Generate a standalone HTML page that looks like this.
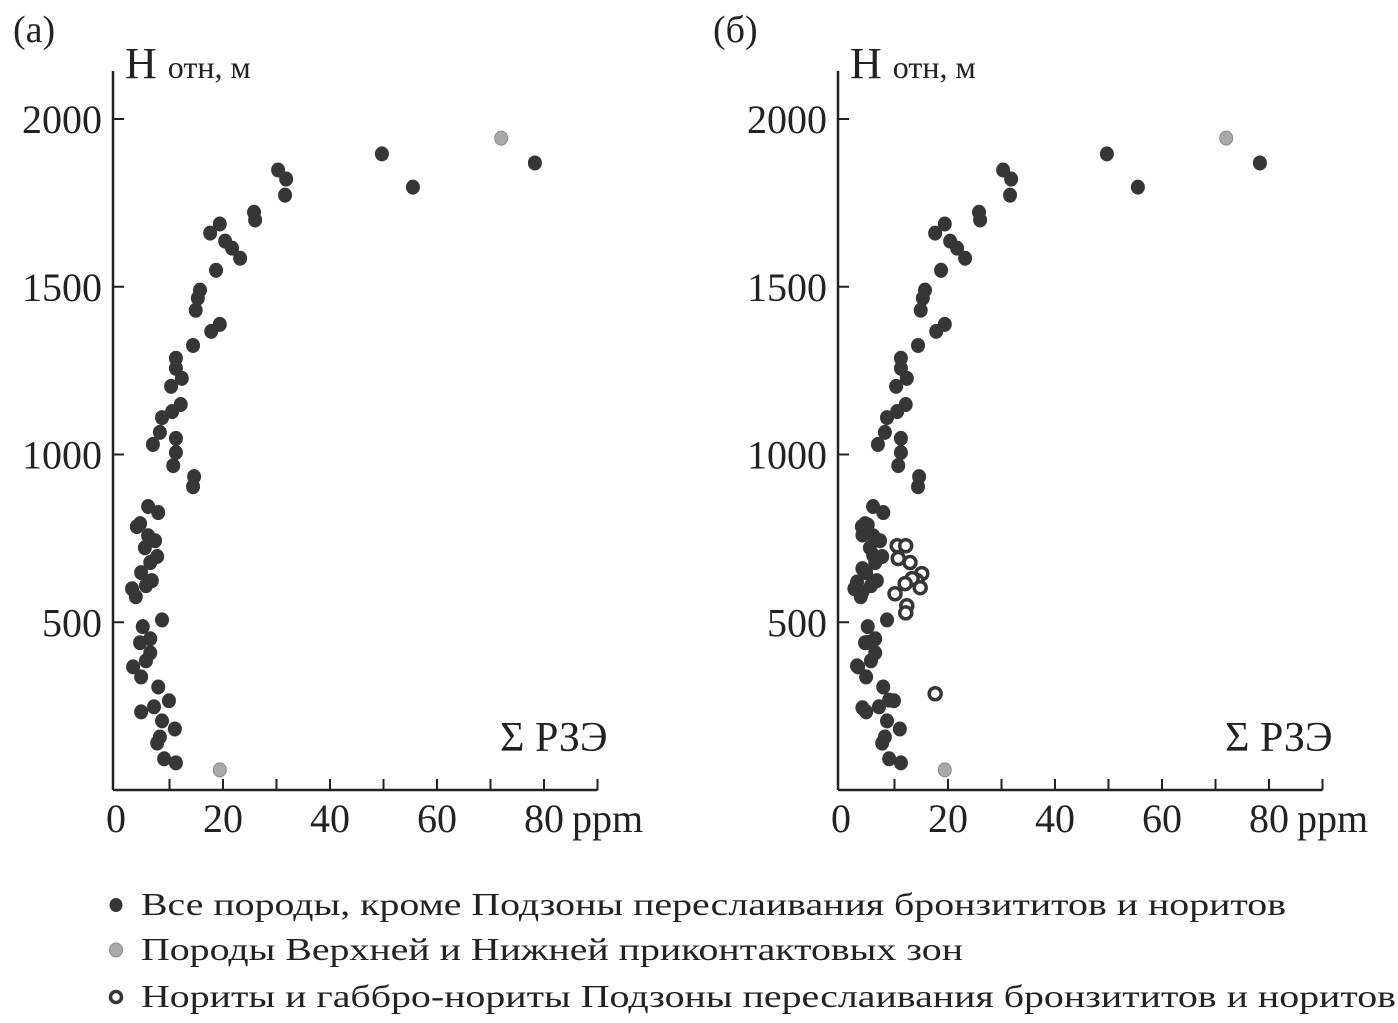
<!DOCTYPE html>
<html><head><meta charset="utf-8"><style>
html,body{margin:0;padding:0;background:#fff;}
svg{display:block;font-family:"Liberation Serif",serif;}
</style></head><body>
<svg id="chart" width="1398" height="1023" viewBox="0 0 1398 1023" xmlns="http://www.w3.org/2000/svg"></svg>
<script>
// ΣREE (ppm) vs relative height (m)
const darkX = [49.7,55.5,78.3,30.3,31.8,31.6,25.8,26.0,19.4,17.6,20.4,21.7,23.2,18.7,15.7,15.3,14.9,19.4,17.8,14.4,11.2,11.2,12.3,10.3,12.1,10.5,8.6,8.2,6.9,11.2,11.2,10.7,14.6,14.4,6.0,7.9,4.5,3.9,6.0,7.3,5.4,7.7,6.4,4.7,6.7,5.6,3.0,3.7,8.6,5.0,6.4,4.5,6.4,5.6,3.2,4.7,7.9,9.9,7.1,4.7,8.6,11.0,8.2,7.7,9.0,11.2];
const darkY = [1896,1797,1869,1848,1821,1773,1722,1699,1687,1660,1636,1615,1585,1549,1490,1466,1430,1388,1367,1325,1287,1257,1227,1203,1149,1128,1110,1066,1030,1048,1006,967,934,904,845,827,794,785,758,743,722,696,678,648,624,609,600,576,507,487,451,439,409,385,367,337,307,266,248,233,206,182,158,140,93,81];
const grayX = [72.0,19.4];
const grayY = [1943,60];
const extraDarkX = [5,4,3,4,3,4,9,6,4,2.5,5];
const extraDarkY = [790,760,620,590,370,245,268,700,660,600,440];
const openX = [10.5,12.1,10.7,12.9,15.1,14.2,13.3,12.0,14.8,10.1,12.3,12.1,17.6];
const openY = [728,728,690,678,645,624,630,615,603,585,549,528,287];
const xTicks = [0,20,40,60,80];
const yTicks = [500,1000,1500,2000];

const NS = "http://www.w3.org/2000/svg";
const svg = document.getElementById('chart');
function mk(tag, attrs, parent){ const e=document.createElementNS(NS,tag); for(const k in attrs) e.setAttribute(k,attrs[k]); (parent||svg).appendChild(e); return e; }

function panel(ox, label, labelX, name, withOpen){
  const g = mk('g',{});
  
  
  const x0 = ox+116, xs = 5.35, y0 = 790, ys = 0.3355;
  const X = v => x0 + v*xs, Y = v => y0 - v*ys;
  const axisX = ox+113;
  const ya = mk('line',{x1:axisX,y1:71,x2:axisX,y2:y0,stroke:'#222','stroke-width':2.5},g);
   
  const xa = mk('line',{x1:axisX,y1:y0,x2:X(90),y2:y0,stroke:'#222','stroke-width':2.5},g);
   
  for(let v=10; v<=90; v+=10){
    const t = mk('line',{x1:X(v),y1:y0,x2:X(v),y2:y0-11,stroke:'#222','stroke-width':2},g);
     
  }
  xTicks.forEach(v=>{
    const t = mk('text',{x:X(v),y:832,'font-size':40,'text-anchor':'middle',fill:'#222'},g);
    t.textContent = v;
     
  });
  const ppm = mk('text',{x:X(80)+28,y:832,'font-size':40,fill:'#222'},g);
  ppm.textContent='ppm';
   
  yTicks.forEach(v=>{
    const t = mk('line',{x1:axisX,y1:Y(v),x2:axisX+11,y2:Y(v),stroke:'#222','stroke-width':2},g);
     
    const l = mk('text',{x:ox+102,y:Y(v)+14,'font-size':40,'text-anchor':'end',fill:'#222'},g);
    l.textContent = v;
     
  });
  const pl = mk('text',{x:labelX,y:42,'font-size':38,fill:'#222'},g);
  pl.textContent = label;
   
  const yt = mk('text',{x:ox+125,y:78,fill:'#222'},g);
   
  const s1 = mk('tspan',{'font-size':44},yt); s1.textContent='H ';
  const s2 = mk('tspan',{'font-size':32},yt); s2.textContent='отн, м';
  const ann = mk('text',{x:ox+500,y:751,'font-size':42,fill:'#222'},g);
  ann.textContent='Σ РЗЭ';
   

  const dot = (x,y,fill,stroke,nm)=>{
    const c = mk('ellipse',{cx:X(x),cy:Y(y),rx:6.5,ry:7,fill:fill,stroke:stroke,'stroke-width':1},g);
    
    
  };
  if(withOpen){
    extraDarkX.forEach((x,i)=>dot(x,extraDarkY[i],'#363636','#363636','dark-point'));
  }
  darkX.forEach((x,i)=>dot(x,darkY[i],'#363636','#363636','dark-point'));
  grayX.forEach((x,i)=>dot(x,grayY[i],'#a9a9a9','#8a8a8a','gray-point'));
  if(withOpen){
    openX.forEach((x,i)=>{
      const c = mk('circle',{cx:X(x),cy:Y(openY[i]),r:6,fill:'#fff',stroke:'#363636','stroke-width':3.5},g);
      
      
    });
  }
}
panel(0,'(а)',13,'panel-a',false);
panel(725,'(б)',713,'panel-b',true);

// legend
const lg = mk('g',{});


const items = [
  ['Все породы, кроме Подзоны переслаивания бронзититов и норитов', 915, 'dark', 1145],
  ['Породы Верхней и Нижней приконтактовых зон', 960, 'gray', 822],
  ['Нориты и габбро-нориты Подзоны переслаивания бронзититов и норитов', 1007, 'open', 1255]
];
items.forEach(it=>{
  let m;
  if(it[2]==='dark') m = mk('ellipse',{cx:116,cy:it[1]-10,rx:6.5,ry:7,fill:'#363636'},lg);
  else if(it[2]==='gray') m = mk('ellipse',{cx:116,cy:it[1]-10,rx:6.5,ry:7,fill:'#a9a9a9',stroke:'#8a8a8a','stroke-width':1},lg);
  else m = mk('circle',{cx:116,cy:it[1]-10,r:5.5,fill:'#fff',stroke:'#363636','stroke-width':3.5},lg);
  
  
  const t = mk('text',{x:141,y:it[1],'font-size':32,fill:'#222',textLength:it[3],lengthAdjust:'spacingAndGlyphs'},lg);
  t.textContent = it[0];
  
  
});
</script>
</body></html>
